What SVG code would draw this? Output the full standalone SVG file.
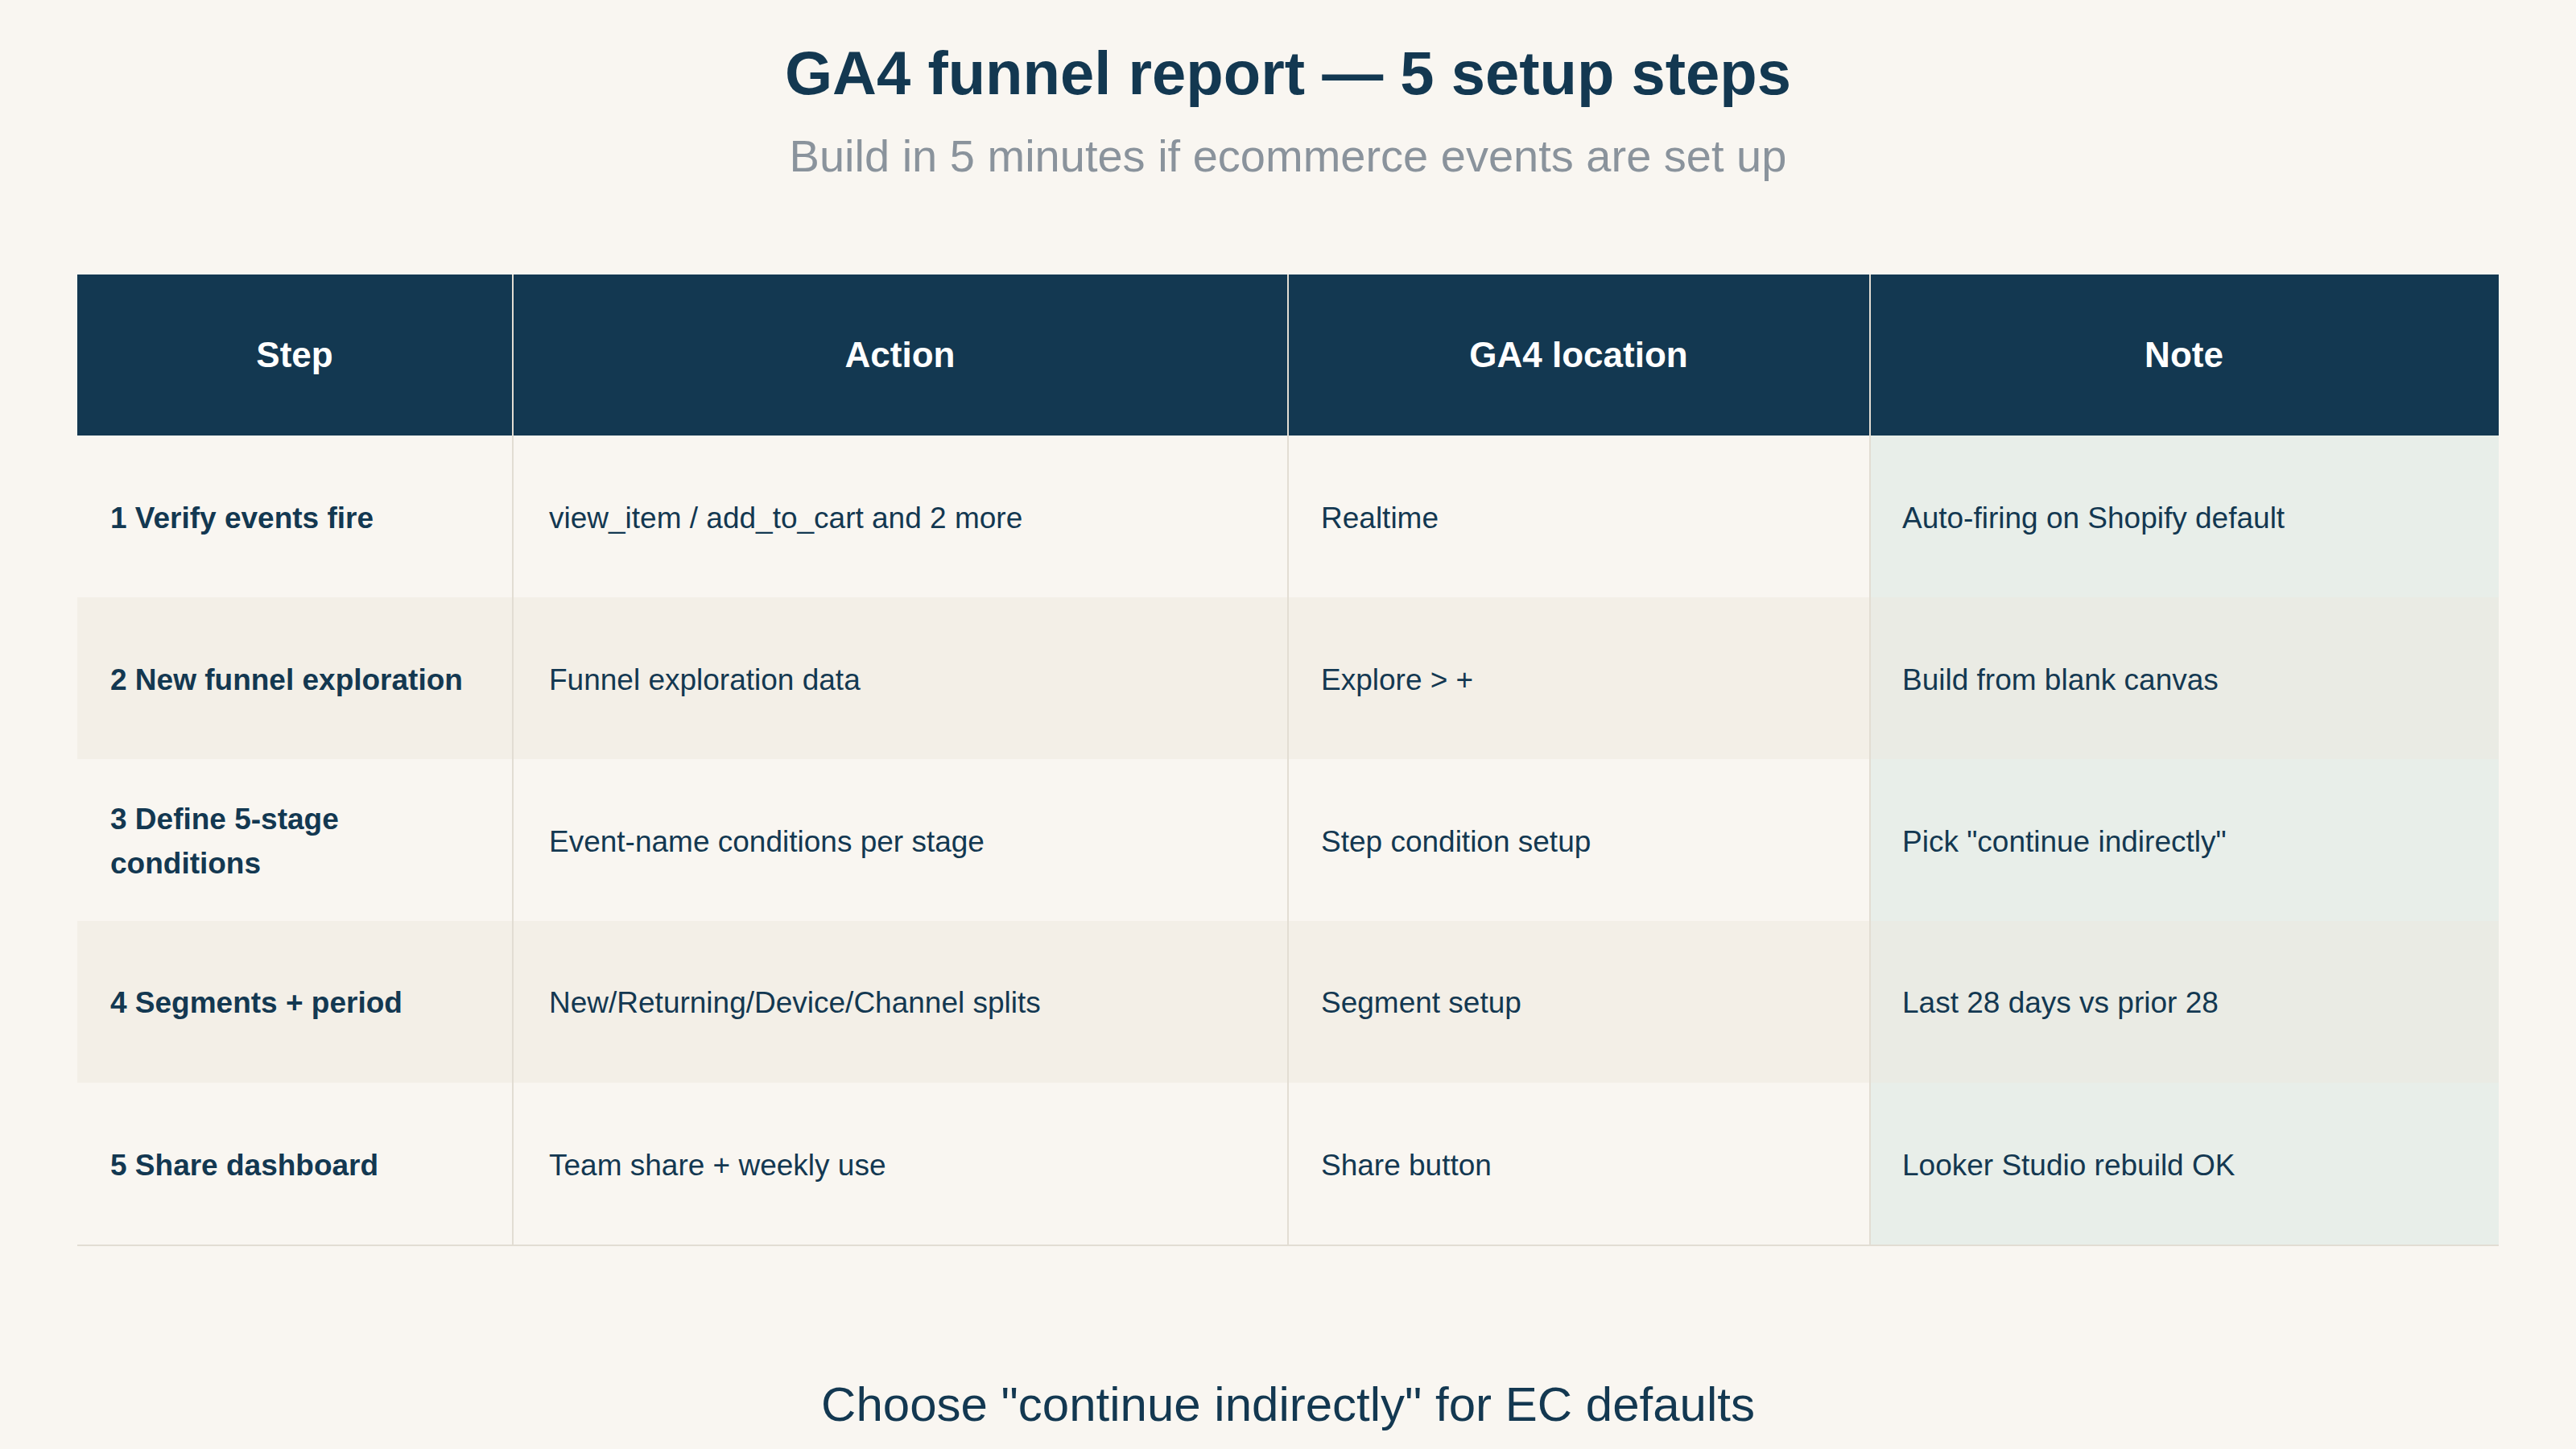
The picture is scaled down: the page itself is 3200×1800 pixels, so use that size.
<svg xmlns="http://www.w3.org/2000/svg" width="3200" height="1800" viewBox="0 0 3200 1800">
<style>
text{font-family:"Liberation Sans",Arial,sans-serif;fill:#133851}
.h{font-size:44px;font-weight:bold;fill:#fff;text-anchor:middle}
.s{font-size:37px;font-weight:bold}
.c{font-size:37px}
.ln{stroke:#e2ddd3;stroke-width:2}
</style>
<rect width="3200" height="1800" fill="#f9f6f1"/>
<text x="1600" y="117" text-anchor="middle" font-size="76" font-weight="bold">GA4 funnel report — 5 setup steps</text>
<text x="1600" y="213" text-anchor="middle" font-size="56" style="fill:#8a939c">Build in 5 minutes if ecommerce events are set up</text>
<g id="table">
<rect x="96" y="341" width="3008" height="200" fill="#133851"/>
<rect x="96" y="541" width="3008" height="201" fill="#f9f6f1"/>
<rect x="96" y="742" width="3008" height="201" fill="#f3efe7"/>
<rect x="96" y="943" width="3008" height="201" fill="#f9f6f1"/>
<rect x="96" y="1144" width="3008" height="201" fill="#f3efe7"/>
<rect x="96" y="1345" width="3008" height="202" fill="#f9f6f1"/>
<rect x="2323" y="541" width="781" height="201" fill="#e8eee9"/>
<rect x="2323" y="742" width="781" height="201" fill="#eaebe4"/>
<rect x="2323" y="943" width="781" height="201" fill="#e8eee9"/>
<rect x="2323" y="1144" width="781" height="201" fill="#eaebe4"/>
<rect x="2323" y="1345" width="781" height="202" fill="#e8eee9"/>
<g class="ln">
<line x1="637" y1="341" x2="637" y2="1547"/><line x1="1600" y1="341" x2="1600" y2="1547"/><line x1="2323" y1="341" x2="2323" y2="1547"/>
<line x1="96" y1="1547" x2="3104" y2="1547"/>
</g>
<text class="h" x="366" y="456">Step</text><text class="h" x="1118" y="456">Action</text><text class="h" x="1961" y="456">GA4 location</text><text class="h" x="2713" y="456">Note</text>
<text class="s" x="137" y="656">1 Verify events fire</text><text class="c" x="682" y="656">view_item / add_to_cart and 2 more</text><text class="c" x="1641" y="656">Realtime</text><text class="c" x="2363" y="656">Auto-firing on Shopify default</text>
<text class="s" x="137" y="857">2 New funnel exploration</text><text class="c" x="682" y="857">Funnel exploration data</text><text class="c" x="1641" y="857">Explore &gt; +</text><text class="c" x="2363" y="857">Build from blank canvas</text>
<text class="s" x="137" y="1030">3 Define 5-stage</text><text class="s" x="137" y="1085">conditions</text><text class="c" x="682" y="1058">Event-name conditions per stage</text><text class="c" x="1641" y="1058">Step condition setup</text><text class="c" x="2363" y="1058">Pick "continue indirectly"</text>
<text class="s" x="137" y="1258">4 Segments + period</text><text class="c" x="682" y="1258">New/Returning/Device/Channel splits</text><text class="c" x="1641" y="1258">Segment setup</text><text class="c" x="2363" y="1258">Last 28 days vs prior 28</text>
<text class="s" x="137" y="1460">5 Share dashboard</text><text class="c" x="682" y="1460">Team share + weekly use</text><text class="c" x="1641" y="1460">Share button</text><text class="c" x="2363" y="1460">Looker Studio rebuild OK</text>
</g>
<text x="1600" y="1765" text-anchor="middle" font-size="60">Choose "continue indirectly" for EC defaults</text>
</svg>
